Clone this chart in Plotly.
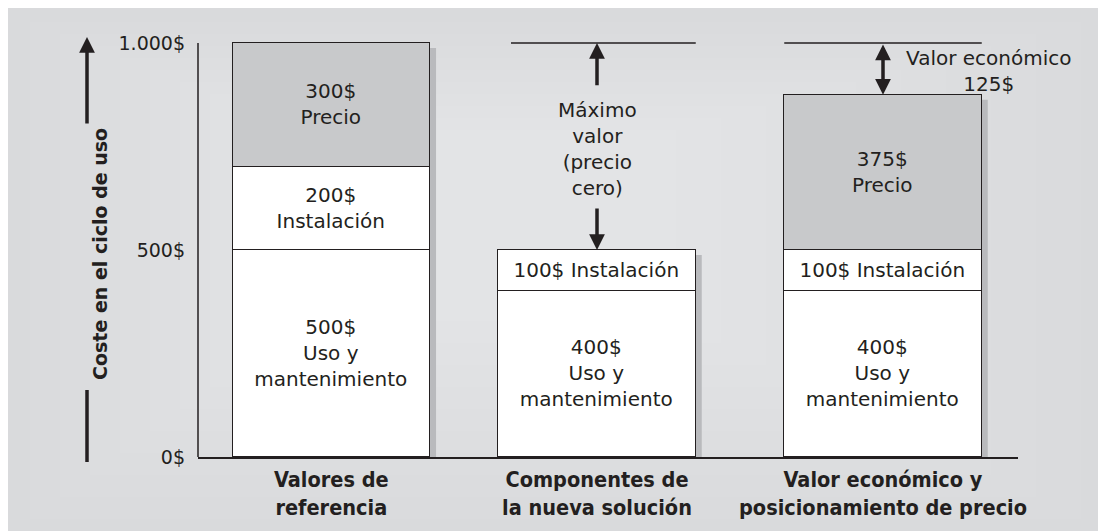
import plotly.graph_objects as go

# ---------------- data ----------------
categories = ["Valores de<br>referencia",
              "Componentes de<br>la nueva solución",
              "Valor económico y<br>posicionamiento de precio"]
uso = [500, 400, 400]
instalacion = [200, 100, 100]
precio = [300, 0, 375]
uso_text = ["500$<br>Uso y<br>mantenimiento", "400$<br>Uso y<br>mantenimiento", "400$<br>Uso y<br>mantenimiento"]
inst_text = ["200$<br>Instalación", "100$ Instalación", "100$ Instalación"]
precio_text = ["300$<br>Precio", "", "375$<br>Precio"]
y_ticks = [0, 500, 1000]
y_tick_labels = ["0$", "500$", "1.000$"]
max_label = "Máximo<br>valor<br>(precio<br>cero)"
econ_label = "Valor económico<br>125$"
y_title = "Coste en el ciclo de uso"

# ---------------- layout constants (x axis in screen pixels) ----------------
W, H = 1106, 531
L, R, T, B = 190, 96, 30, 82
X0, X1 = 198, 1018
YMAX = 1012
x_pos = [331.3, 597, 883]
bar_w = 197.5
shadow_dx = 6
shadow_dy = 12
FONT = "DejaVu Sans, Open Sans, sans-serif"
BOLD = "DejaVu Sans, sans-serif"
COND = "Liberation Sans Narrow, DejaVu Sans Condensed, sans-serif"
ink = "#231f20"
grey = "#c8c9cb"
FS = 20

totals = [u + i + p for u, i, p in zip(uso, instalacion, precio)]
ref_total = totals[0]

def py(v):  # screen pixel y to paper
    return (457 - v) / 419
def px(v):  # screen pixel x to paper
    return (v - 198) / 820

fig = go.Figure()
line = dict(color=ink, width=1.5)
fig.add_trace(go.Bar(x=x_pos, y=uso, width=bar_w, text=uso_text, marker=dict(color="white", line=line)))
fig.add_trace(go.Bar(x=x_pos, y=instalacion, width=bar_w, text=inst_text, marker=dict(color="white", line=line)))
fig.add_trace(go.Bar(x=x_pos, y=precio, width=bar_w, text=precio_text, marker=dict(color=grey, line=line)))
fig.update_traces(textposition="inside", insidetextanchor="middle", textangle=0,
                  constraintext="none", textfont=dict(family=FONT, size=FS, color=ink),
                  hoverinfo="skip", showlegend=False)

shapes = []
# soft lighter centre on the grey panel (nested translucent rects)
for k in range(10):
    shapes.append(dict(type="rect", xref="paper", yref="paper",
                       x0=px(30 * (k + 1)), x1=px(W + 20 - 45 * (k + 1)),
                       y0=py(H + 10 - 22 * (k + 1)), y1=py(10 + 12 * (k + 1)),
                       fillcolor="rgba(255,255,255,0.04)", line=dict(width=0), layer="below"))
# shadows
for xc, tot in zip(x_pos, totals):
    shapes.append(dict(type="rect", xref="x", yref="y", x0=xc + bar_w / 2, x1=xc + bar_w / 2 + shadow_dx,
                       y0=0, y1=tot - shadow_dy, fillcolor="#b9babd", line=dict(width=0), layer="below"))
# y axis line
shapes.append(dict(type="line", xref="paper", yref="y", x0=0, x1=0, y0=0, y1=ref_total, line=line))
# reference lines at max value
shapes.append(dict(type="line", xref="x", yref="y", x0=511, x1=x_pos[1] + bar_w / 2, y0=ref_total, y1=ref_total, line=line))
shapes.append(dict(type="line", xref="x", yref="y", x0=x_pos[2] - bar_w / 2, x1=x_pos[2] + bar_w / 2, y0=ref_total, y1=ref_total, line=line))
# y title lower line
shapes.append(dict(type="line", xref="paper", yref="paper", x0=px(87), x1=px(87), y0=py(462), y1=py(390),
                   line=dict(color=ink, width=3.5)))
fig.update_layout(shapes=shapes)

anns = []
arrow = dict(showarrow=True, arrowhead=2, arrowsize=0.9, arrowwidth=3.5, arrowcolor=ink, standoff=0, text="")
# bar 2 arrows
anns.append(dict(x=x_pos[1], y=ref_total, xref="x", yref="y", ax=x_pos[1], ay=894, axref="x", ayref="y", **arrow))
anns.append(dict(x=x_pos[1], y=totals[1], xref="x", yref="y", ax=x_pos[1], ay=604, axref="x", ayref="y", **arrow))
anns.append(dict(x=x_pos[1], y=744, xref="x", yref="y", text=max_label, showarrow=False,
                 font=dict(family=FONT, size=FS, color=ink)))
# bar 3 double arrow
anns.append(dict(x=x_pos[2], y=totals[2], xref="x", yref="y", ax=x_pos[2], ay=ref_total, axref="x", ayref="y",
                 arrowside="end+start", startarrowhead=2, startarrowsize=0.9, **arrow))
anns.append(dict(x=988, y=932, xref="x", yref="y", text=econ_label, showarrow=False,
                 font=dict(family=FONT, size=FS, color=ink)))
# y title
anns.append(dict(x=px(87), y=py(254), xref="paper", yref="paper", text="<b>" + y_title + "</b>", textangle=-90,
                 showarrow=False, font=dict(family=BOLD, size=19, color=ink)))
anns.append(dict(x=px(87), y=py(37), xref="paper", yref="paper", ax=0, ay=88, axref="pixel", ayref="pixel",
                 **arrow))
fig.update_layout(annotations=anns)

fig.update_layout(
    width=W, height=H, margin=dict(l=L, r=R, t=T, b=B, autoexpand=False),
    paper_bgcolor="#d9dadc", plot_bgcolor="rgba(0,0,0,0)",
    barmode="stack", bargap=0, showlegend=False,
    xaxis=dict(range=[X0, X1], tickvals=x_pos, ticktext=["<b>" + c.replace("<br>", "</b><br><b>") + "</b>" for c in categories],
               showgrid=False, zeroline=False, showline=True, linecolor=ink, linewidth=1.5,
               ticks="", ticklabelstandoff=2, tickfont=dict(family=COND, size=21.5, color=ink), fixedrange=True),
    yaxis=dict(range=[0, YMAX], tickvals=y_ticks, ticktext=y_tick_labels, showgrid=False, zeroline=False,
               showline=False, ticks="", ticklabelstandoff=12, tickfont=dict(family=FONT, size=19, color=ink),
               fixedrange=True),
)

fig.write_html("out.html")
